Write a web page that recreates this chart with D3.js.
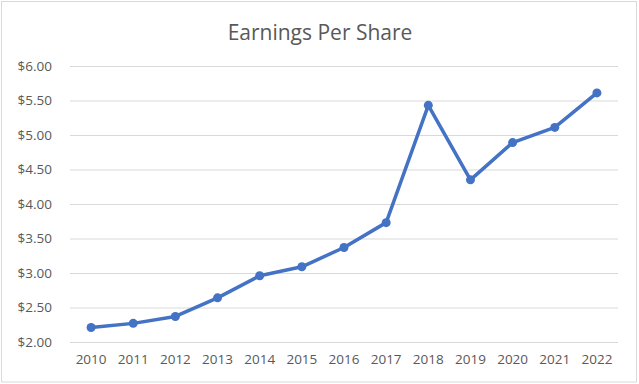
<!DOCTYPE html>
<html>
<head>
<meta charset="utf-8">
<script src="https://cdn.jsdelivr.net/npm/d3@7"></script>
<style>
  html, body { margin: 0; padding: 0; background: #fff; }
  svg { display: block; }
</style>
</head>
<body>
<svg id="chart" width="639" height="384"></svg>
<script>
const years = ["2010","2011","2012","2013","2014","2015","2016","2017","2018","2019","2020","2021","2022"];
const eps = [2.21, 2.27, 2.37, 2.64, 2.96, 3.09, 3.37, 3.73, 5.43, 4.35, 4.89, 5.11, 5.61];
const yTicks = [2.0, 2.5, 3.0, 3.5, 4.0, 4.5, 5.0, 5.5, 6.0];
const title = "Earnings Per Share";

const W = 639, H = 384;
const margin = { left: 70, right: 21, top: 66, bottom: 42 };
const svg = d3.select("#chart");
const font = "'Open Sans', sans-serif";

svg.append("rect").attr("x", 1.5).attr("y", 1.5).attr("width", W - 4).attr("height", H - 3.5)
  .attr("fill", "#fff").attr("stroke", "#d9d9d9").attr("stroke-width", 1);

const x = d3.scaleBand().domain(years).range([margin.left, W - margin.right]).padding(0);
const y = d3.scaleLinear().domain([2, 6]).range([H - margin.bottom, margin.top]);

// gridlines
const grid = d3.axisLeft(y).tickValues(yTicks).tickSize(-(W - margin.right - margin.left)).tickFormat("");
svg.append("g").attr("transform", `translate(${margin.left},0)`).call(grid)
  .call(g => g.select(".domain").remove())
  .call(g => g.selectAll("line").attr("stroke", "#d9d9d9").attr("stroke-width", 1));

// y axis labels
const yAxis = d3.axisLeft(y).tickValues(yTicks).tickSize(0).tickPadding(18)
  .tickFormat(d => "$" + d3.format(".2f")(d));
svg.append("g").attr("transform", `translate(${margin.left},0)`).call(yAxis)
  .call(g => g.select(".domain").remove())
  .call(g => g.selectAll("text").attr("fill", "#595959").style("font-family", font).style("font-size", "13.5px"));

// x axis labels
const xAxis = d3.axisBottom(x).tickSize(0).tickPadding(12);
svg.append("g").attr("transform", `translate(0,${H - margin.bottom})`).call(xAxis)
  .call(g => g.select(".domain").remove())
  .call(g => g.selectAll("text").attr("fill", "#595959").style("font-family", font).style("font-size", "13.5px"));

// line
const line = d3.line().x((d, i) => x(years[i]) + x.bandwidth() / 2).y(d => y(d));
svg.append("path").datum(eps).attr("d", line).attr("fill", "none")
  .attr("stroke", "#4472C4").attr("stroke-width", 3.5).attr("stroke-linejoin", "round").attr("stroke-linecap", "round");

svg.append("g").selectAll("circle").data(eps).join("circle")
  .attr("cx", (d, i) => x(years[i]) + x.bandwidth() / 2)
  .attr("cy", d => y(d)).attr("r", 4.5).attr("fill", "#4472C4");

// title
svg.append("text").attr("x", 320).attr("y", 39.5).attr("text-anchor", "middle")
  .attr("fill", "#595959").style("font-family", font).style("font-size", "21px").text(title);
</script>
</body>
</html>
